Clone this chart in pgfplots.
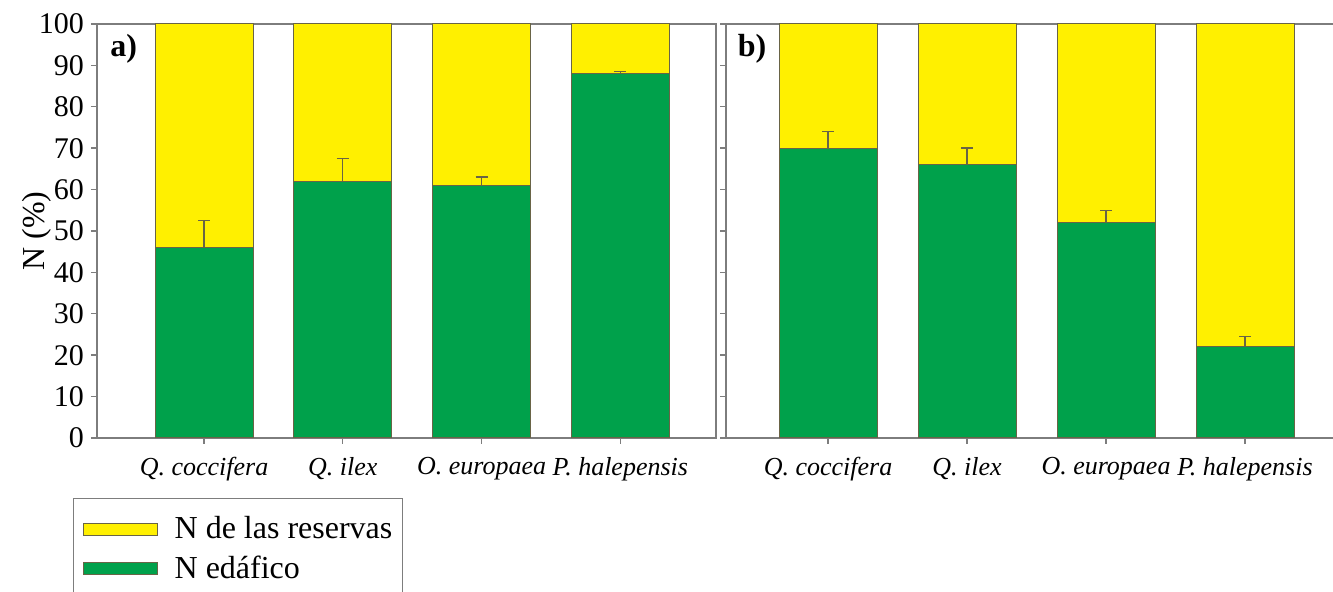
\documentclass[border=0pt]{standalone}
\usepackage{fontspec}
\setmainfont{Liberation Serif}
\usepackage{pgfplots}
\pgfplotsset{compat=1.18}
\definecolor{cyel}{RGB}{255,240,0}
\definecolor{cgrn}{RGB}{0,161,75}
\definecolor{cedge}{RGB}{105,100,70}
\definecolor{caxis}{RGB}{125,125,125}
\pgfplotsset{
  common/.style={
    scale only axis, height=207pt,
    ymin=0, ymax=100, ytick={0,10,...,100},
    xtick={0,1,2,3},
    xticklabels={{Q. coccifera},{Q. ilex},{O. europaea},{P. halepensis}},
    xticklabel style={font=\fontsize{13}{15}\selectfont\itshape, yshift=-3pt},
    yticklabel style={font=\fontsize{15}{18}\selectfont},
    /pgf/number format/assume math mode=true,
    tick align=outside, major tick length=3pt,
    xtick pos=left, ytick pos=left,
    axis line style={caxis, line width=0.7pt},
    tick style={caxis, line width=0.7pt},
    ybar, bar width=49pt,
  },
  errs/.style={error bars/.cd, y dir=plus, y explicit,
    error mark=|,
    error bar style={cedge, line width=0.7pt},
    error mark options={cedge, mark size=3pt, line width=0.7pt}},
  ybar legend/.style={legend image code/.code={\path (0pt,0pt) (45pt,0pt);\draw[#1, line width=0.5pt] (4pt,-3pt) rectangle (41pt,3pt);}},
}
\begin{document}
\begin{tikzpicture}
\begin{axis}[common, name=a, at={(0,0)}, anchor=south west,
  width=309.5pt, xmin=-0.771, xmax=3.689,
  ylabel={N (\%)}, ylabel style={font=\fontsize{16}{19}\selectfont},
  ylabel shift=-13pt,
  legend style={at={(rel axis cs:-0.0388,-0.145)}, anchor=north west,
    draw=caxis, line width=0.7pt, font=\fontsize{16}{19.5}\selectfont,
    legend cell align=left, inner xsep=0.5pt, inner ysep=7pt,
    row sep=3pt,
    nodes={inner xsep=4.5pt}},
  ]
\addplot[bar shift=0pt, fill=cyel, draw=cedge, line width=0.5pt] coordinates {(0,100) (1,100) (2,100) (3,100)};
\addlegendentry{N de las reservas}
\addplot[bar shift=0pt, fill=cgrn, draw=cedge, line width=0.5pt, errs]
  coordinates {(0,46) +- (0,6.5) (1,62) +- (0,5.5) (2,61) +- (0,2) (3,88) +- (0,0.5)};
\addlegendentry{N edáfico}
\node[anchor=west, font=\fontsize{16}{19}\selectfont\bfseries] at (rel axis cs:0.01,0.94) {a)};
\end{axis}
\begin{axis}[common, name=b, at={(314.5pt,0)}, anchor=south west,
  width=303.5pt, xmin=-0.734, xmax=3.633,
  axis y line*=left, axis x line*=box,
  yticklabels={},
  ]
\addplot[bar shift=0pt, fill=cyel, draw=cedge, line width=0.5pt] coordinates {(0,100) (1,100) (2,100) (3,100)};
\addplot[bar shift=0pt, fill=cgrn, draw=cedge, line width=0.5pt, errs]
  coordinates {(0,70) +- (0,4) (1,66) +- (0,4) (2,52) +- (0,3) (3,22) +- (0,2.5)};
\node[anchor=west, font=\fontsize{16}{19}\selectfont\bfseries] at (rel axis cs:0.008,0.94) {b)};
\end{axis}
\pgfresetboundingbox
\path[use as bounding box] (-48.5pt,-77pt) rectangle (618pt,219pt);
\end{tikzpicture}
\end{document}
